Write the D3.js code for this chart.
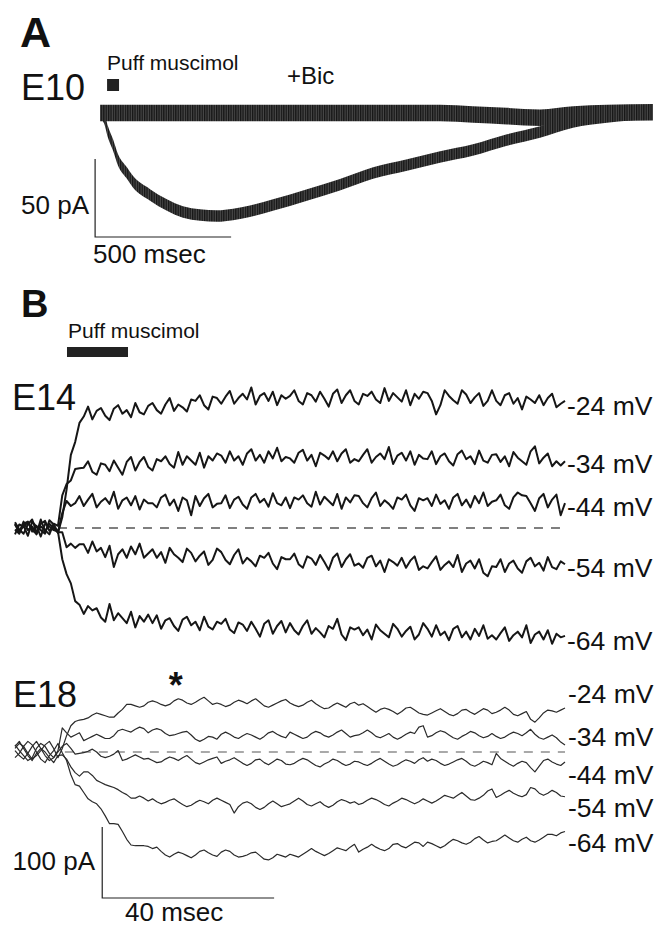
<!DOCTYPE html>
<html>
<head>
<meta charset="utf-8">
<script src="https://cdn.jsdelivr.net/npm/d3@7"></script>
<style>
body { margin: 0; background: #fff; }
svg { display: block; font-family: "Liberation Sans", Arial, Helvetica, sans-serif; }
</style>
</head>
<body>
<svg id="fig" width="657" height="928"></svg>
<script>
/** data, panel A (E10): time in msec, current in pA **/
var aTime = [0, 15, 29, 48, 66, 99, 121, 184, 246, 305, 368, 430, 489, 551, 636, 761, 882, 1004, 1129, 1250, 1371, 1496, 1618, 1739, 1864, 2033];
var aResp = [0, -3, -12, -20.5, -30, -38.5, -44, -52.5, -59, -63.5, -65.4, -66, -65, -63, -59, -52.5, -46, -38.5, -33.3, -28.2, -23.7, -17.3, -12.2, -5.8, -2.6, 0];
var aBic  = [0, 0, 0, 0, 0, 0, 0, 0, 0, 0, 0, 0, 0, 0, 0, 0, 0, 0, 0, 0, -1, -2, -3, -1, 0, 0.5];
var aNoise = { resp: 3.7, bic: 5.3 };   // half width of the noise band, pA
var aPuff = [26, 70];                    // msec

/** data, panel B: one sample per msec, current in pA **/
var bSample = 1;
var bPuff = [12.1, 26.3];
var holding = ["-24 mV", "-34 mV", "-44 mV", "-54 mV", "-64 mV"];

var e14 = [
  [5,-6,9,-3,2,-9,6,10,-4,3,-7,15,54,103,121,148,
   157,171,153,165,169,158,152,168,173,161,166,156,176,163,160,172,
   176,166,161,174,183,165,174,170,164,181,179,187,173,167,185,183,
   175,185,193,175,183,189,181,198,174,186,190,179,192,173,187,182,
   186,194,179,174,190,187,178,192,182,171,189,195,176,187,194,179,
   174,189,186,192,181,176,197,179,190,184,178,194,173,189,182,192,
   190,179,160,173,194,186,180,175,194,188,176,184,190,172,179,194,
   179,173,187,190,175,183,167,185,181,176,187,173,183,189,170,175, 179],
  [8,-2,-8,5,12,-6,2,-3,-9,6,3,46,62,67,83,84,
   85,94,79,75,91,89,80,95,85,75,93,100,81,93,100,86,
   81,97,94,101,90,85,107,89,101,95,89,106,85,101,95,105,
   102,92,108,95,101,89,105,111,95,103,92,108,98,113,94,100,
   98,92,106,110,95,103,87,106,102,97,108,94,105,111,92,97,
   94,103,111,92,100,105,97,114,90,102,106,95,108,89,103,98,
   97,108,90,101,105,94,88,104,109,97,101,90,109,95,92,103,
   104,93,101,87,107,99,94,89,108,115,91,99,105,87,94,88, 94],
  [6,-5,3,-11,9,2,-3,-8,11,5,-6,21,38,31,35,45,
   31,40,48,29,37,42,34,51,27,39,43,32,45,26,40,35,
   35,29,43,47,32,40,24,43,39,18,45,31,42,48,29,34,
   35,46,28,40,44,33,27,43,48,36,41,30,49,35,32,43,
   28,43,40,46,35,30,51,33,44,38,32,48,27,43,36,46,
   45,35,29,42,50,31,39,34,27,43,40,47,32,24,42,39,
   42,31,47,34,39,27,43,48,32,40,29,45,35,50,31,37,
   39,47,32,27,43,50,46,45,35,24,42,48,29,40,47,18, 35],
  [-9,5,2,8,-3,-8,12,-5,6,0,-6,-6,-27,-22,-28,-23,
   -23,-35,-19,-33,-28,-41,-25,-55,-37,-30,-42,-26,-37,-22,-42,-36,
   -30,-42,-34,-49,-28,-37,-42,-48,-29,-35,-47,-39,-33,-52,-45,-29,
   -34,-45,-51,-38,-30,-50,-42,-47,-54,-39,-42,-35,-50,-58,-41,-44,
   -44,-36,-51,-56,-40,-43,-52,-38,-48,-59,-42,-36,-55,-44,-37,-53,
   -50,-56,-42,-39,-54,-46,-62,-44,-48,-53,-42,-56,-46,-40,-59,-54,
   -57,-48,-40,-59,-52,-47,-55,-38,-62,-50,-46,-57,-44,-63,-68,-54,
   -55,-44,-62,-50,-46,-57,-63,-47,-42,-54,-49,-60,-41,-55,-58,-47, -51],
  [-2,-8,6,9,-5,3,-12,6,2,-3,-5,-44,-65,-78,-103,-108,
   -121,-110,-116,-113,-126,-132,-107,-130,-120,-127,-134,-118,-140,-124,-132,-122,
   -134,-123,-142,-130,-127,-138,-145,-129,-125,-137,-132,-144,-125,-139,-143,-132,
   -135,-128,-143,-148,-133,-136,-145,-132,-142,-153,-135,-130,-149,-138,-131,-147,
   -134,-144,-150,-138,-130,-149,-141,-147,-154,-138,-142,-128,-150,-158,-140,-143,
   -140,-151,-143,-157,-136,-144,-149,-154,-135,-142,-153,-145,-139,-157,-150,-134,
   -142,-153,-137,-151,-146,-158,-142,-138,-154,-146,-157,-142,-152,-137,-156,-151,
   -157,-148,-140,-159,-151,-146,-154,-137,-162,-150,-146,-157,-144,-163,-149,-154, -152]
];

var e18 = [
  [5,12,8,-2,-10,-5,2,10,15,5,-8,5,23,37,43,45,
   46,48,52,55,53,51,49,49,55,60,67,67,65,63,65,70,
   72,70,67,65,67,72,75,73,69,67,70,74,77,72,67,69,
   67,64,66,70,73,71,68,72,75,70,65,63,66,69,72,74,
   69,66,64,66,70,73,68,64,61,62,66,69,66,63,68,70,
   66,68,64,60,56,60,62,60,57,53,57,62,63,59,55,53,
   52,55,58,61,57,53,51,54,59,60,56,53,57,61,59,54,
   56,59,63,59,53,51,54,57,46,42,48,55,59,58,56,59, 62],
  [2,-5,-10,-2,8,15,5,-5,-12,-8,2,34,27,21,24,27,
   16,19,22,25,22,19,19,23,30,32,30,28,32,35,33,27,
   31,33,31,26,23,24,26,28,29,24,18,15,18,22,21,18,
   25,28,25,21,19,23,26,24,21,18,22,27,29,25,22,20,
   28,25,22,19,21,26,29,27,23,21,24,28,31,26,21,23,
   24,27,31,27,22,20,23,26,21,18,21,25,28,26,35,37,
   21,23,27,30,28,24,20,18,22,25,29,27,23,20,22,26,
   22,19,21,25,28,26,23,27,32,25,20,18,21,24,20,14, 10],
  [10,2,-5,-12,-8,5,12,8,-2,-8,0,8,12,5,-3,-2,
   -1,1,4,0,-6,-8,-6,-3,2,-12,-10,-7,-4,-7,-10,-9,
   -12,-15,-14,-10,-7,-9,-12,-8,-5,-10,-15,-17,-14,-11,-9,-7,
   -16,-13,-11,-8,-12,-16,-19,-16,-11,-10,-15,-18,-14,-10,-12,-17,
   -18,-16,-12,-9,-11,-15,-19,-21,-17,-14,-10,-12,-16,-19,-17,-13,
   -14,-17,-19,-16,-12,-9,-13,-17,-20,-18,-14,-11,-13,-16,-11,-8,
   -13,-10,-12,-16,-19,-17,-14,-11,-9,-13,-18,-20,-17,-13,-15,-18,
   -2,-9,-13,-17,-20,-16,-13,-15,-22,-28,-20,-12,-10,-14,-17,-19, -14],
  [8,15,5,-5,-12,-2,5,0,-8,-15,-5,-4,-10,-21,-29,-34,
   -28,-28,-33,-40,-43,-46,-48,-50,-53,-57,-60,-65,-65,-62,-65,-69,
   -66,-70,-73,-71,-68,-66,-70,-74,-77,-75,-71,-68,-70,-73,-68,-65,
   -68,-71,-74,-86,-77,-72,-70,-73,-78,-81,-78,-73,-69,-73,-77,-75,
   -73,-69,-65,-69,-74,-76,-73,-70,-75,-78,-75,-70,-67,-69,-72,-70,
   -74,-72,-68,-65,-67,-70,-74,-76,-72,-69,-65,-67,-70,-73,-70,-66,
   -69,-72,-69,-65,-61,-63,-65,-61,-57,-62,-67,-68,-65,-61,-55,-52,
   -64,-61,-57,-54,-58,-61,-63,-60,-50,-52,-58,-61,-58,-54,-57,-62, -63],
  [-8,-2,8,15,10,0,-10,-15,-5,2,12,-1,-12,-32,-46,-48,
   -57,-66,-70,-73,-80,-90,-101,-101,-102,-112,-123,-131,-132,-132,-132,-133,
   -136,-134,-140,-145,-148,-144,-141,-143,-146,-149,-145,-140,-138,-142,-145,-147,
   -141,-138,-140,-145,-148,-147,-145,-142,-141,-146,-151,-152,-149,-144,-146,-148,
   -144,-146,-148,-144,-140,-136,-140,-143,-146,-143,-139,-135,-137,-139,-134,-130,
   -141,-137,-134,-130,-134,-137,-139,-136,-130,-129,-133,-135,-131,-127,-128,-133,
   -127,-129,-132,-135,-132,-127,-123,-125,-128,-130,-127,-122,-119,-124,-128,-126,
   -125,-121,-117,-121,-125,-127,-123,-120,-125,-127,-124,-120,-116,-116,-118,-114, -112]
];

// where the holding potential labels sit, pA
var e14LabelAt = [173, 91.5, 29.6, -55, -158];
var e18LabelAt = [83, 22.5, -31, -77.5, -127];

// scale bars: start time, lowest value, length in time and current
var barA = { t: -18, v: -79.5, dt: 500, dv: 50 };
var barB = { t: 20.3, v: -205.6, dt: 40, dv: 100 };

/** drawing **/
var svg = d3.select("#fig");
var ink = "#222";

function txt(x, y, s, size, opts) {
  opts = opts || {};
  return svg.append("text")
    .attr("x", x).attr("y", y)
    .attr("font-size", size)
    .attr("font-weight", opts.bold ? "bold" : null)
    .attr("text-anchor", opts.anchor || "start")
    .attr("fill", "#111")
    .text(s);
}

// dense sweep texture for the slow recordings
var pat = svg.append("defs").append("pattern")
  .attr("id", "sweep").attr("patternUnits", "userSpaceOnUse")
  .attr("width", 2.4).attr("height", 10);
pat.append("rect").attr("width", 2.4).attr("height", 10).attr("fill", "#4a4a4a");
pat.append("rect").attr("width", 1.3).attr("height", 10).attr("fill", "#161616");

// ---- panel A
var xA = d3.scaleLinear().domain([0, 2033]).range([100, 653]);
var yA = d3.scaleLinear().domain([0, -50]).range([113, 191]);

var bandA = function(vals, half) {
  return d3.area()
    .x(function(d, i) { return xA(aTime[i]); })
    .y0(function(d) { return yA(d - half); })
    .y1(function(d) { return yA(d + half); })
    .curve(d3.curveMonotoneX)(vals);
};

svg.append("path").attr("d", bandA(aBic, aNoise.bic)).attr("fill", "url(#sweep)");
svg.append("path").attr("d", bandA(aResp, aNoise.resp)).attr("fill", "url(#sweep)");

svg.append("rect")
  .attr("x", xA(aPuff[0])).attr("y", 79)
  .attr("width", xA(aPuff[1]) - xA(aPuff[0])).attr("height", 12)
  .attr("fill", ink);

svg.append("path")
  .attr("d", "M" + xA(barA.t) + "," + yA(barA.v + barA.dv) +
             "V" + yA(barA.v) + "H" + xA(barA.t + barA.dt))
  .attr("fill", "none").attr("stroke", ink).attr("stroke-width", 1.2);

txt(20, 47, "A", 43, { bold: true });
txt(107, 70, "Puff muscimol", 21);
txt(21, 100, "E10", 36);
txt(287, 84, "+Bic", 24);
txt(89, 214, "50 pA", 26, { anchor: "end" });
txt(93, 263, "500 msec", 26);

// ---- panel B
var xB = d3.scaleLinear().domain([0, 128]).range([15, 565]);
var y14 = d3.scaleLinear().domain([0, -100]).range([528, 599]);
var y18 = d3.scaleLinear().domain([0, -100]).range([752, 823]);

function traceLine(y) {
  return d3.line()
    .x(function(d, i) { return xB(i * bSample); })
    .y(function(d) { return y(d); });
}

// zero lines
svg.append("line")
  .attr("x1", xB(10)).attr("x2", xB(128)).attr("y1", y14(0)).attr("y2", y14(0))
  .attr("stroke", "#555").attr("stroke-width", 1.3).attr("stroke-dasharray", "9,8");
svg.append("line")
  .attr("x1", xB(11.6)).attr("x2", xB(128)).attr("y1", y18(0)).attr("y2", y18(0))
  .attr("stroke", "#555").attr("stroke-width", 1.1).attr("stroke-dasharray", "9,8");

svg.append("g").selectAll("path").data(e14).enter().append("path")
  .attr("d", traceLine(y14))
  .attr("fill", "none").attr("stroke", "#161616").attr("stroke-width", 2)
  .attr("stroke-linejoin", "round");

svg.append("g").selectAll("path").data(e18).enter().append("path")
  .attr("d", traceLine(y18))
  .attr("fill", "none").attr("stroke", "#2a2a2a").attr("stroke-width", 1.2)
  .attr("stroke-linejoin", "round");

svg.append("rect")
  .attr("x", xB(bPuff[0])).attr("y", 347)
  .attr("width", xB(bPuff[1]) - xB(bPuff[0])).attr("height", 10)
  .attr("fill", ink);

svg.append("path")
  .attr("d", "M" + xB(barB.t) + "," + y18(barB.v + barB.dv) +
             "V" + y18(barB.v) + "H" + xB(barB.t + barB.dt))
  .attr("fill", "none").attr("stroke", ink).attr("stroke-width", 1.2);

holding.forEach(function(h, i) {
  txt(xB(128) + 2, y14(e14LabelAt[i]) + 9.5, h, 26.5);
  txt(xB(128) + 3, y18(e18LabelAt[i]) + 9.5, h, 26.5);
});

txt(21, 317, "B", 38, { bold: true });
txt(68, 338, "Puff muscimol", 21);
txt(12, 410, "E14", 36);
txt(13, 707, "E18", 36);
txt(xB(37.4), 698, "*", 36, { anchor: "middle", bold: true });
txt(95, 870, "100 pA", 26, { anchor: "end" });
txt(125, 921, "40 msec", 26);
</script>
</body>
</html>
